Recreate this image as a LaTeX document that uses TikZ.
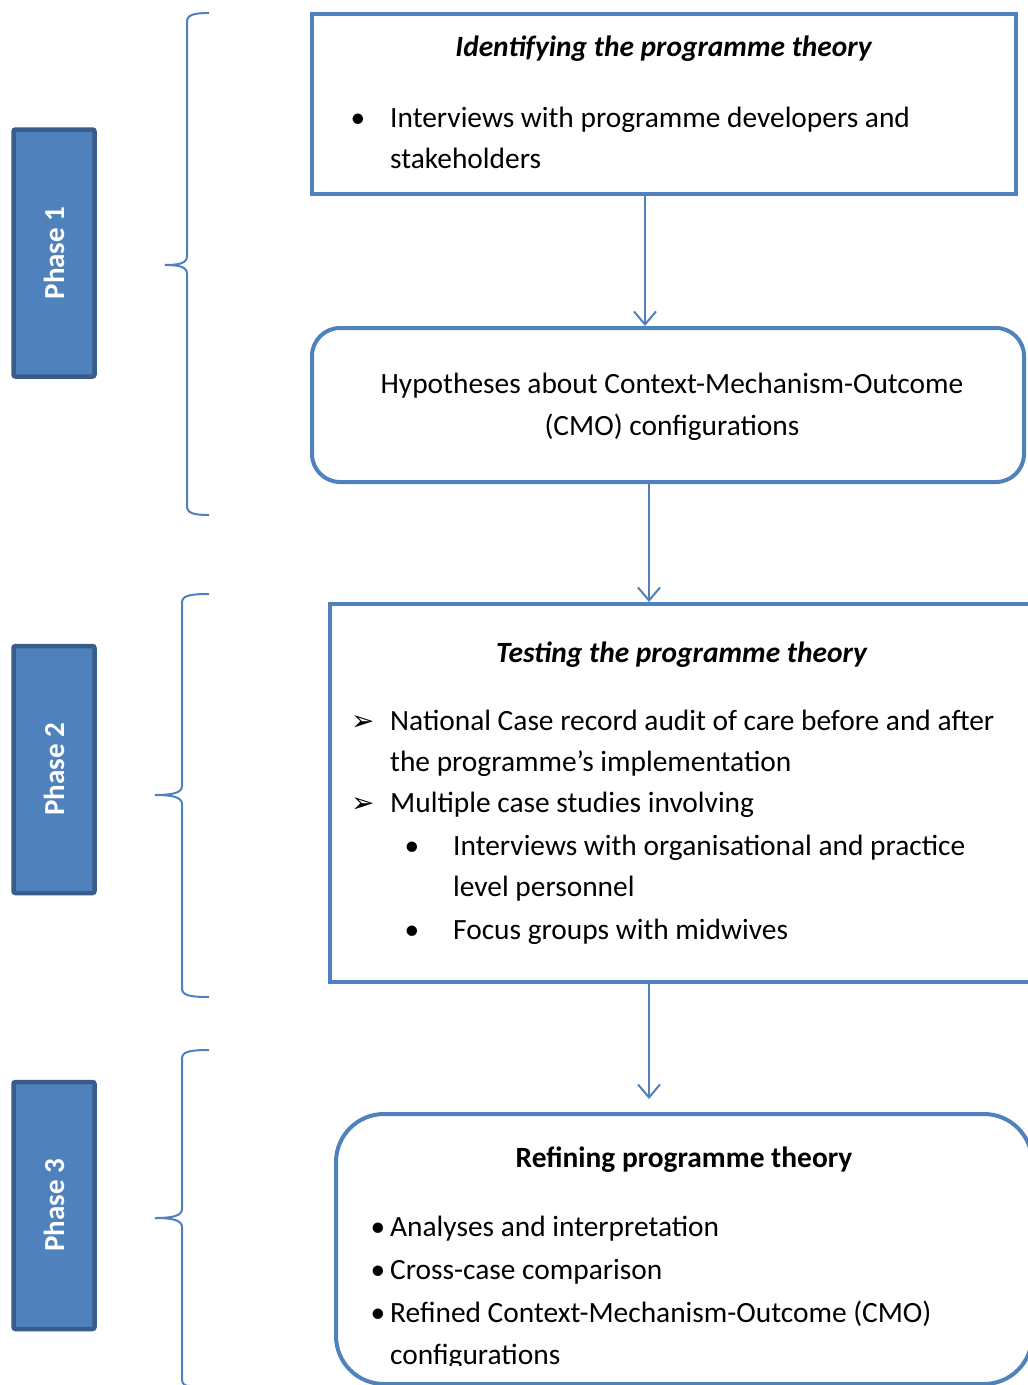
\documentclass[tikz,border=0pt]{standalone}
\usepackage{fontspec}
\setmainfont{Carlito}
\newfontfamily\dejavu{DejaVu Sans}
\usetikzlibrary{arrows.meta}
\definecolor{accent}{HTML}{4F81BD}
\definecolor{accentdark}{HTML}{385D8A}
\begin{document}
\begin{tikzpicture}[x=1pt,y=-1pt,
  font=\fontsize{29.4}{41}\selectfont,
  box/.style={draw=accent, line width=4pt, inner sep=0pt},
  phasebox/.style={draw=accentdark, fill=accent, line width=4.5pt, rounded corners=2pt,
    minimum width=247pt, minimum height=81pt, inner sep=0pt, rotate=90,
    text=white, font=\fontsize{29}{35}\selectfont\bfseries},
  arr/.style={draw=accent, line width=2pt, -{Straight Barb[length=13pt,width=22pt,line width=2pt]}},
  brace/.style={draw=accent, line width=2pt},
  txt/.style={anchor=base west, inner sep=0pt},
  ctxt/.style={anchor=base, inner sep=0pt},
  dot/.style={anchor=base, inner sep=0pt},
  chev/.style={anchor=base west, inner sep=0pt, font=\fontsize{28}{30}\selectfont\dejavu}
]
\clip (0,0) rectangle (1028,1385);
\fill[white] (0,0) rectangle (1028,1385);

% phase boxes
\node[phasebox] (p1) at (54,253) {Phase 1};
\node[phasebox] (p2) at (54,769.5) {Phase 2};
\node[phasebox] (p3) at (54,1205.5) {Phase 3};

% braces
\draw[brace] (209,13) .. controls (193,13) and (187,15) .. (187,22) -- (187,256)
  .. controls (187,263) and (180,265) .. (165,265);
\draw[brace] (165,265) .. controls (180,265) and (187,267) .. (187,274) -- (187,506)
  .. controls (187,513) and (193,515) .. (209,515);
\draw[brace] (209,594) .. controls (188,594) and (182,596) .. (182,603) -- (182,786)
  .. controls (182,793) and (172,795) .. (155,795);
\draw[brace] (155,795) .. controls (172,795) and (182,797) .. (182,804) -- (182,988)
  .. controls (182,995) and (188,997) .. (209,997);
\draw[brace] (209,1050) .. controls (188,1050) and (182,1052) .. (182,1059) -- (182,1209)
  .. controls (182,1216) and (172,1218) .. (155,1218);
\draw[brace] (155,1218) .. controls (172,1218) and (182,1220) .. (182,1227) -- (182,1378)
  .. controls (182,1385) and (185,1386) .. (190,1386);

% main boxes
\node[box, minimum width=704pt, minimum height=180pt] (b1) at (664,104) {};
\node[box, rounded corners=28pt, minimum width=712pt, minimum height=154pt] (b2) at (668,405) {};
\node[box, minimum width=712pt, minimum height=378pt] (b3) at (686,793) {};
\node[box, rounded corners=48pt, minimum width=696pt, minimum height=270pt] (b4) at (684,1249) {};

% connectors
\coordinate (ca) at (645,0);
\coordinate (cb) at (649,0);
\draw[arr] (b1.south -| ca) -- (b2.north -| ca);
\draw[arr] (b2.south -| cb) -- (b3.north -| cb);
\draw[arr] (b3.south -| cb) -- ([yshift=13pt]b4.north -| cb);

% box 1 text
\node[ctxt] (t1) at (664,56) {\textbf{\textit{Identifying the programme theory}}};
\node[dot] (d1) at (358,127) {•};
\node[txt] (t1a) at (390,127) {Interviews with programme developers and};
\node[txt] (t1b) at (390,168) {stakeholders};

% box 2 text
\node[ctxt] (t2a) at (672,393) {Hypotheses about Context-Mechanism-Outcome};
\node[ctxt] (t2b) at (672,435) {(CMO) configurations};

% box 3 text
\node[ctxt] (t3) at (682,662) {\textbf{\textit{Testing the programme theory}}};
\node[chev] (a1) at (351,730) {➢};
\node[txt] (t3a) at (390,730) {National Case record audit of care before and after};
\node[txt] (t3b) at (390,771) {the programme’s implementation};
\node[chev] (a2) at (351,812) {➢};
\node[txt] (t3c) at (390,812) {Multiple case studies involving};
\node[dot] (d2) at (412,855) {•};
\node[txt] (t3d) at (453,855) {Interviews with organisational and practice};
\node[txt] (t3e) at (453,896) {level personnel};
\node[dot] (d3) at (412,939) {•};
\node[txt] (t3f) at (453,939) {Focus groups with midwives};

% box 4 text
\node[ctxt] (t4) at (684,1167) {\textbf{Refining programme theory}};
\node[dot] (d4) at (378,1236) {•};
\node[txt] (t4a) at (390,1236) {Analyses and interpretation};
\node[dot] (d5) at (378,1279) {•};
\node[txt] (t4b) at (390,1279) {Cross-case comparison};
\node[dot] (d6) at (378,1322) {•};
\node[txt] (t4c) at (390,1322) {Refined Context-Mechanism-Outcome (CMO)};
\begin{scope}
\clip (340,1330) rectangle (1000,1365);
\node[txt] (t4d) at (390,1364) {configurations};
\end{scope}
\end{tikzpicture}
\end{document}
